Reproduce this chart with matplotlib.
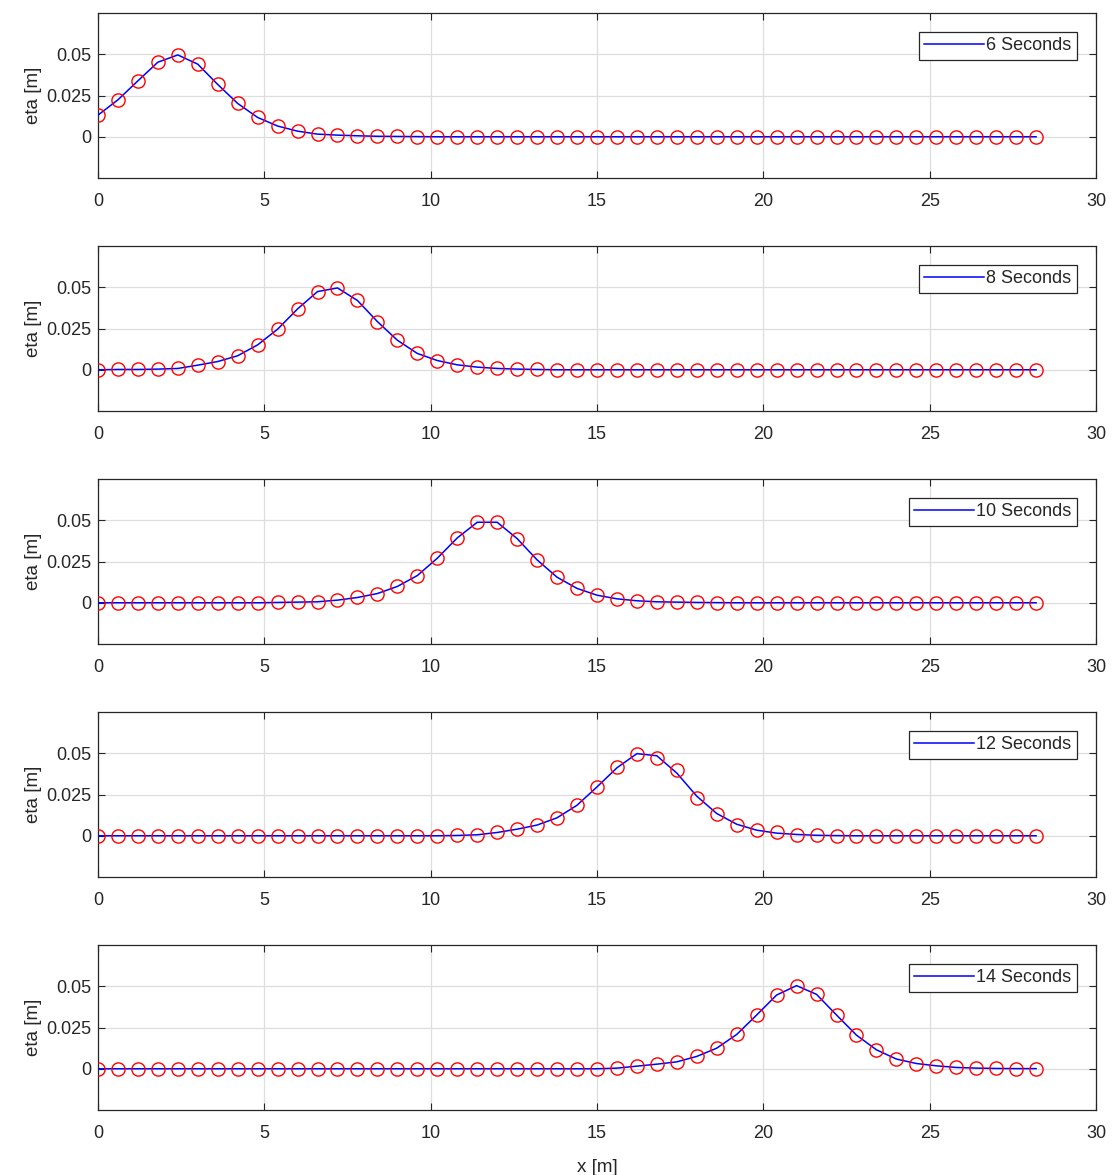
import numpy as np
from matplotlib import pyplot as plt

# x positions of the samples (m)
x = np.round(np.arange(48) * 0.6, 1)

times = ['6 Seconds', '8 Seconds', '10 Seconds', '12 Seconds', '14 Seconds']

# surface elevation (markers)
eta_6 = [0.0131, 0.0224, 0.0339, 0.0452, 0.0496, 0.0440, 0.0317, 0.0202, 0.0117, 0.0065,
         0.0034, 0.0016, 0.0010, 0.0006, 0.0003, 0.0002, 0.0001, 0, 0, 0,
         0, 0, 0, 0, 0, 0, 0, 0, 0, 0,
         0, 0, 0, 0, 0, 0, 0, 0, 0, 0,
         0, 0, 0, 0, 0, 0, 0, 0]
eta_8 = [0.0, 0.0002, 0.0002, 0.0004, 0.0008, 0.0028, 0.0050, 0.0085, 0.0151, 0.0246,
         0.0369, 0.0474, 0.0496, 0.0420, 0.0292, 0.0179, 0.0099, 0.0056, 0.0030, 0.0016,
         0.0008, 0.0004, 0.0002, 0, 0, 0, 0, 0, 0, 0,
         0, 0, 0, 0, 0, 0, 0, 0, 0, 0,
         0, 0, 0, 0, 0, 0, 0, 0]
eta_10 = [0, 0, 0, 0, 0, 0, 0, 0, 0, 0.0002,
          0.0004, 0.0006, 0.0016, 0.0032, 0.0056, 0.0099, 0.0165, 0.0270, 0.0393, 0.0488,
          0.0488, 0.0389, 0.0260, 0.0155, 0.0087, 0.0046, 0.0024, 0.0012, 0.0006, 0.0004,
          0.0002, 0.0001, 0, 0, 0, 0, 0, 0, 0, 0,
          0, 0, 0, 0, 0, 0, 0, 0]
eta_12 = [0, 0, 0, 0, 0, 0, 0, 0, 0, 0,
          0, 0, 0, 0, 0, 0, 0, 0, 0.0002, 0.0006,
          0.0020, 0.0040, 0.0065, 0.0109, 0.0185, 0.0296, 0.0419, 0.0498, 0.0470, 0.0401,
          0.0228, 0.0129, 0.0067, 0.0034, 0.0022, 0.0006, 0.0002, 0.0001, 0, 0,
          0, 0, 0, 0, 0, 0, 0, 0]
eta_14 = [0, 0, 0, 0, 0, 0, 0, 0, 0, 0,
          0, 0, 0, 0, 0, 0, 0, 0, 0, 0,
          0, 0, 0, 0, 0, 0, 0.0004, 0.0016, 0.0028, 0.0042,
          0.0075, 0.0125, 0.0208, 0.0326, 0.0447, 0.0504, 0.0451, 0.0326, 0.0204, 0.0115,
          0.0059, 0.0032, 0.0018, 0.0008, 0.0004, 0.0002, 0.0001, 0.0001]

# reference solution (blue line), same x positions
line_6 = eta_6
line_8 = eta_8
line_10 = eta_10
line_12 = [0, 0, 0, 0, 0, 0, 0, 0, 0, 0,
           0, 0, 0, 0, 0, 0, 0, 0, 0.0002, 0.0006,
           0.0020, 0.0040, 0.0065, 0.0109, 0.0185, 0.0296, 0.0412, 0.0498, 0.0485, 0.0380,
           0.0240, 0.0135, 0.0070, 0.0034, 0.0016, 0.0008, 0.0003, 0.0001, 0, 0,
           0, 0, 0, 0, 0, 0, 0, 0]
line_14 = eta_14

markers = [eta_6, eta_8, eta_10, eta_12, eta_14]
lines = [line_6, line_8, line_10, line_12, line_14]

plt.rcParams['font.family'] = ['Liberation Sans', 'DejaVu Sans']
dark = '#262626'

fig = plt.figure(figsize=(11.12, 11.75), dpi=100)
bottoms = [0.8485, 0.6502, 0.4519, 0.2536, 0.0553]

for i in range(5):
    ax = fig.add_axes([0.0881, bottoms[i], 0.8975, 0.1404])
    ax.plot(x, lines[i], '-', color='blue', lw=1.1, label=times[i], zorder=3)
    ax.plot(x, markers[i], 'o', mfc='none', mec='red', ms=9.5, mew=1.0, zorder=4)
    ax.set_xlim(0, 30)
    ax.set_ylim(-0.025, 0.075)
    ax.set_xticks([0, 5, 10, 15, 20, 25, 30])
    ax.set_yticks([0, 0.025, 0.05])
    ax.set_yticklabels(['0', '0.025', '0.05'])
    ax.grid(True, color='#dedede', lw=0.9)
    ax.set_axisbelow(True)
    ax.tick_params(direction='in', top=True, right=True, length=5, width=0.8,
                   labelsize=13, colors=dark, pad=11)
    ax.tick_params(axis='y', pad=5)
    for s in ax.spines.values():
        s.set_color(dark)
        s.set_linewidth(0.9)
    ax.set_ylabel('eta [m]', fontsize=13.5, color=dark, labelpad=3)
    leg = ax.legend(loc='upper right', fontsize=13, handlelength=3.3,
                    fancybox=False, framealpha=1, edgecolor=dark,
                    borderpad=0.3, handletextpad=0.15, borderaxespad=1.05)
    leg.get_frame().set_linewidth(0.9)
    for t in leg.get_texts():
        t.set_color(dark)
    if i == 4:
        ax.set_xlabel('x [m]', fontsize=13.5, color=dark, labelpad=12)

fig.savefig('out.png', dpi=100)
